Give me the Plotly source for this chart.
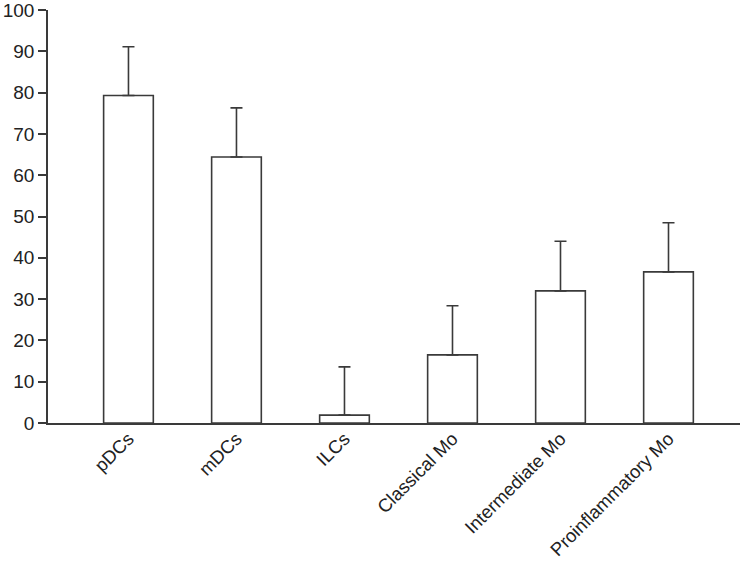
import plotly.graph_objects as go

# cell types and their means / upper errors
cells = ["pDCs", "mDCs", "ILCs", "Classical Mo", "Intermediate Mo", "Proinflammatory Mo"]
means = [79.3, 64.4, 1.9, 16.5, 32.0, 36.6]
errs = [11.8, 11.9, 11.7, 11.9, 12.0, 11.9]
y_ticks = [0, 10, 20, 30, 40, 50, 60, 70, 80, 90, 100]

ink = "#3a3a3a"

fig = go.Figure()
fig.add_trace(go.Bar(
    x=list(range(len(cells))),
    y=means,
    width=0.46,
    marker=dict(color="white", line=dict(color=ink, width=1.6)),
    error_y=dict(type="data", symmetric=False, array=errs,
                 arrayminus=[0] * len(errs),
                 color=ink, thickness=1.6, width=6),
))

fig.update_layout(
    width=740, height=565,
    margin=dict(l=48, r=0, t=10, b=142),
    plot_bgcolor="white", paper_bgcolor="white",
    showlegend=False,
    font=dict(family="Liberation Sans, Arial, sans-serif", size=19, color="#222"),
)
fig.update_xaxes(
    range=[-0.745, 5.662], automargin=False, ticklabeloverflow="allow",
    tickmode="array", tickvals=list(range(len(cells))), ticktext=cells,
    tickangle=-45, tickfont=dict(size=18.5), ticklabelstandoff=-4,
    showline=True, linecolor=ink, linewidth=1.6,
    ticks="", showgrid=False, zeroline=False,
)
fig.update_yaxes(
    range=[0, 100], tickvals=y_ticks, automargin=False, ticklabeloverflow="allow",
    tickfont=dict(size=19),
    showline=True, linecolor=ink, linewidth=1.6,
    ticks="outside", ticklen=8, tickwidth=1.6, tickcolor=ink,
    showgrid=False, zeroline=False,
)

# page body has a default 8px margin; drop it so the figure sits at 0,0
fig.write_html("out.html", config={"displayModeBar": False},
               post_script="document.body.style.margin='0px';")
